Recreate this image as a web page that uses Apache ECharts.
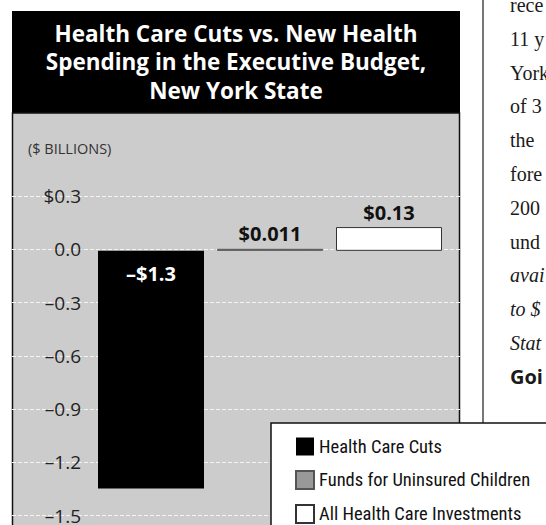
<!DOCTYPE html>
<html><head><meta charset="utf-8">
<script src="https://cdn.jsdelivr.net/npm/echarts@6/dist/echarts.min.js"></script>
<style>html,body{margin:0;padding:0;background:#fff}#c{width:546px;height:525px}</style>
</head><body><div id="c"></div>
<script>
const titleLines = ['Health Care Cuts vs. New Health', 'Spending in the Executive Budget,', 'New York State'];
const unitLabel = '($ BILLIONS)';
const categories = ['Health Care Cuts', 'Funds for Uninsured Children', 'All Health Care Investments'];
const values = [-1.3, 0.011, 0.13];
const valueLabels = ['–$1.3', '$0.011', '$0.13'];
const barColors = ['#000000', '#999999', '#ffffff'];
const yTickValues = [0.3, 0.0, -0.3, -0.6, -0.9, -1.2, -1.5];
const yTickLabels = ['$0.3', '0.0', '–0.3', '–0.6', '–0.9', '–1.2', '–1.5'];
const sideTextLines = ['rece', '11 y', 'York', 'of 3', 'the', 'fore', '200', 'und', 'avai', 'to $', 'Stat', 'Goi'];
const sideTextKinds = ['r', 'r', 'r', 'r', 'r', 'r', 'r', 'r', 'i', 'i', 'i', 'b'];

const chart = echarts.init(document.getElementById('c'), null, {renderer: 'svg'});

function tickLabel(v) {
  const k = yTickValues.findIndex(t => Math.abs(t - v) < 1e-6);
  return k >= 0 ? yTickLabels[k] : '';
}

const sideText = sideTextLines.map((t, i) => ({
  type: 'text', x: 510, y: 5 + i * 33.8, z: 20,
  style: {
    text: t, verticalAlign: 'middle', align: 'left', fill: '#1a1a1a',
    font: sideTextKinds[i] === 'b' ? 'bold 20px "Open Sans", sans-serif'
      : (sideTextKinds[i] === 'i' ? 'italic 20px "Liberation Serif", serif' : '20px "Liberation Serif", serif')
  }
}));

const option = {
  animation: false,
  backgroundColor: '#ffffff',
  title: {
    text: titleLines.join('\n'),
    left: 236, top: 19, padding: 0, textAlign: 'center',
    textStyle: {color: '#ffffff', fontSize: 22.5, fontWeight: 'bold', fontFamily: '"Open Sans", sans-serif', lineHeight: 28.5}
  },
  graphic: [
    {type: 'rect', z: -10, shape: {x: 12, y: 11, width: 448, height: 103}, style: {fill: '#000000'}},
    {type: 'rect', z: -10, shape: {x: 12.5, y: 113, width: 447, height: 430}, style: {fill: '#cccccc', stroke: '#111111', lineWidth: 1.5}},
    {type: 'text', z: 5, x: 28, y: 148, style: {text: unitLabel, verticalAlign: 'middle', fill: '#333333', font: '14.5px "Open Sans", sans-serif'}},
    {type: 'line', z: 20, shape: {x1: 483, y1: 0, x2: 483, y2: 423}, style: {stroke: '#777777', lineWidth: 2}},
    {type: 'rect', z: 30, shape: {x: 271, y: 423, width: 300, height: 200}, style: {fill: '#ffffff', stroke: '#111111', lineWidth: 1.5}}
  ].concat(sideText),
  legend: {
    data: categories, orient: 'vertical', left: 295, top: 437, padding: 0,
    itemWidth: 18, itemHeight: 18, itemGap: 14, icon: 'rect', z: 40, selectedMode: false,
    textStyle: {fontSize: 18.5, color: '#111111', fontFamily: '"Liberation Sans Narrow", "Roboto Condensed", Roboto, sans-serif'}
  },
  grid: [
    {left: 12, right: 86, top: 196, bottom: -2.8},
    {left: 91.5, right: 97.5, top: 196, bottom: -2.8}
  ],
  xAxis: [
    {type: 'category', gridIndex: 0, data: [], show: false},
    {type: 'category', gridIndex: 1, data: categories, show: false}
  ],
  yAxis: [
    {
      type: 'value', gridIndex: 0, min: -1.5, max: 0.3, interval: 0.3,
      axisLine: {show: false}, axisTick: {show: false},
      splitLine: {show: true, lineStyle: {color: '#f4f4f4', width: 1, type: [4, 2]}},
      axisLabel: {
        inside: true, margin: 69, align: 'right', verticalAlign: 'middle', padding: [0, 0, 27, 0],
        fontSize: 19, color: '#222222', fontFamily: '"Open Sans", sans-serif', formatter: tickLabel
      }
    },
    {type: 'value', gridIndex: 1, min: -1.5, max: 0.3, interval: 0.3, show: false, splitLine: {show: false}}
  ],
  series: categories.map((name, i) => ({
    name: name, type: 'bar', xAxisIndex: 1, yAxisIndex: 1,
    barWidth: 106, barGap: '-100%',
    data: values.map((v, j) => (j === i ? v : '-')),
    itemStyle: {color: barColors[i], borderColor: i === 0 ? '#000000' : (i === 1 ? '#555555' : '#333333'), borderWidth: i === 0 ? 0 : 1},
    label: {
      show: true, position: values[i] < 0 ? 'insideTop' : 'top', distance: values[i] < 0 ? 13 : 5,
      formatter: valueLabels[i], color: values[i] < 0 ? '#ffffff' : '#111111',
      fontSize: 20, fontWeight: 'bold', fontFamily: '"Open Sans", sans-serif'
    },
    z: 5
  }))
};
chart.setOption(option);
</script>
</body></html>
